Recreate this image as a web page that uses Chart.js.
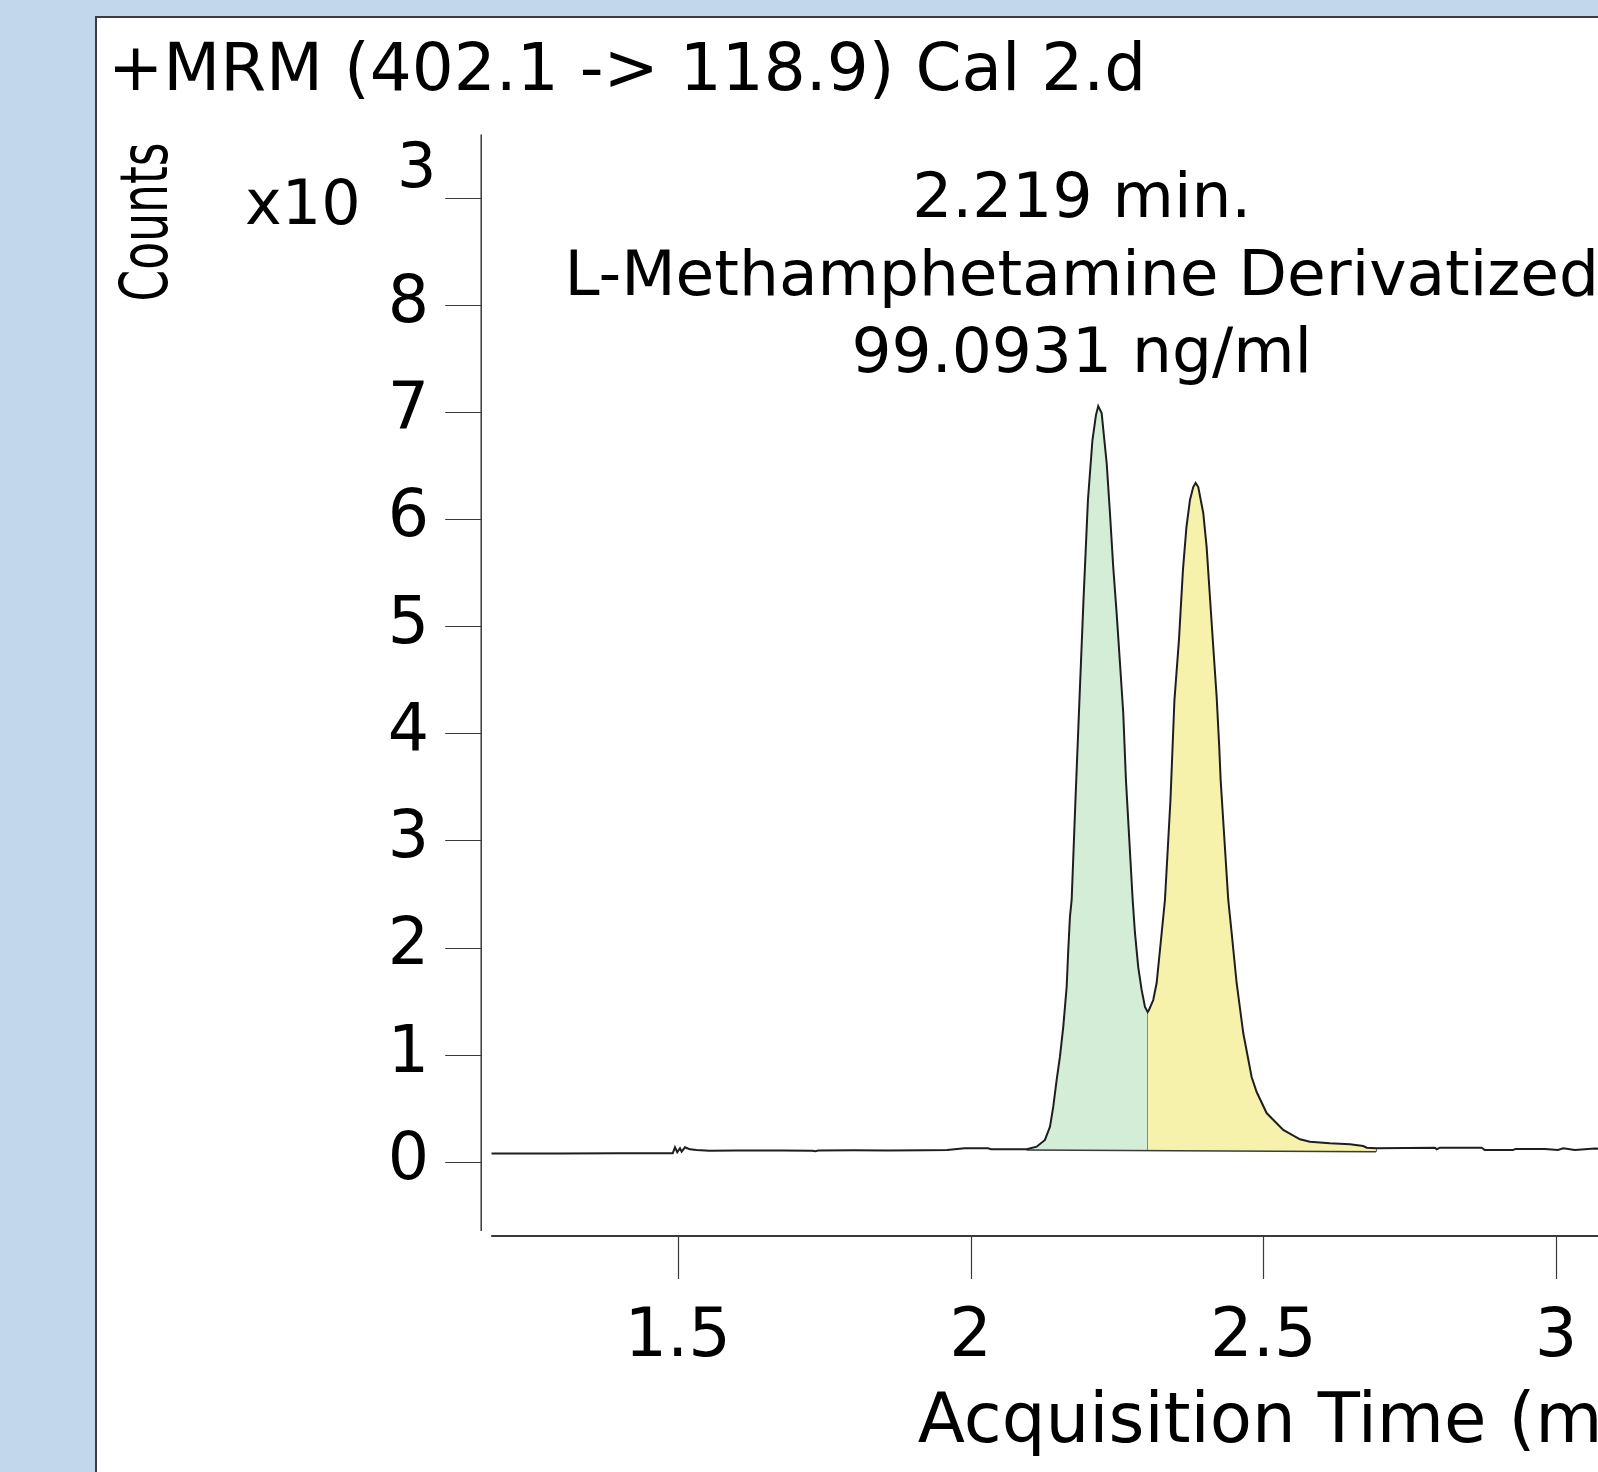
<!DOCTYPE html>
<html>
<head>
<meta charset="utf-8">
<script src="https://cdn.jsdelivr.net/npm/chart.js@4.4.0/dist/chart.umd.min.js"></script>
<style>
  html, body { margin: 0; padding: 0; overflow: hidden; }
  body { width: 1598px; height: 1472px; background: #c3d7ec; position: relative; }
  #panel { position: absolute; left: 95px; top: 16px; width: 2100px; height: 1520px;
           background: #fff; border-left: 2px solid #3c3c3c; border-top: 2px solid #3c3c3c; }
  #panel canvas { position: absolute; left: 0; top: 0; }
</style>
</head>
<body>
<div id="panel"><canvas id="chrom" width="2060" height="1480"></canvas></div>
<script>
// MRM trace, acquisition time (min) against counts (x10^3)
const times = [
  1.182, 1.30, 1.40, 1.4915, 1.4954, 1.4993, 1.5039, 1.5068, 1.5125, 1.5164, 1.521, 1.5324, 1.554,
  1.60, 1.68, 1.73, 1.735, 1.74, 1.80, 1.86, 1.92, 1.96, 1.99, 2.03, 2.035, 2.0959,
  2.1129, 2.1271, 2.1357, 2.1413, 2.1471, 2.1527, 2.1584, 2.1642, 2.1669, 2.1698, 2.1727,
  2.1792, 2.1860, 2.1929, 2.2005, 2.2082, 2.2142, 2.2181,
  2.2239, 2.2325, 2.2381, 2.2437, 2.2495, 2.2552, 2.2608, 2.2654, 2.2769, 2.2808, 2.2864,
  2.2922, 2.2979, 2.3025,
  2.3047, 2.3120, 2.3178, 2.3235, 2.3291, 2.3320, 2.3414, 2.3482, 2.3559, 2.3627, 2.3687,
  2.3747, 2.3803, 2.3844,
  2.3889, 2.3974, 2.4032, 2.4088, 2.4145, 2.4203, 2.4247, 2.4271, 2.4401, 2.4459, 2.4544,
  2.4657, 2.4800, 2.4886, 2.5056, 2.5340, 2.5625, 2.5796, 2.6137, 2.6479, 2.6706, 2.6764, 2.6923,
  2.793, 2.7959, 2.8016, 2.8727, 2.878, 2.9262, 2.931, 2.9808, 3.003, 3.012, 3.032, 3.066, 3.10
];
const counts = [
  0.078, 0.078, 0.079, 0.079, 0.135, 0.089, 0.126, 0.094, 0.135, 0.126, 0.116, 0.110, 0.104,
  0.106, 0.106, 0.104, 0.098, 0.106, 0.108, 0.106, 0.108, 0.110, 0.126, 0.126, 0.117, 0.117,
  0.141, 0.204, 0.328, 0.514, 0.764, 0.981, 1.261, 1.634, 1.977, 2.288, 2.444,
  3.377, 4.310, 5.244, 6.177, 6.737, 6.970, 7.054,
  6.989, 6.522, 6.056, 5.552, 5.122, 4.656, 4.189, 3.563, 2.444, 2.136, 1.818,
  1.604, 1.445, 1.398,
  1.417, 1.510, 1.669, 1.977, 2.285, 2.444, 3.377, 4.310, 4.870, 5.523, 5.925,
  6.177, 6.298, 6.336,
  6.298, 6.056, 5.738, 5.272, 4.805, 4.338, 3.871, 3.563, 2.444, 2.136, 1.669,
  1.202, 0.791, 0.651, 0.455, 0.297, 0.210, 0.188, 0.173, 0.163, 0.147, 0.132, 0.126,
  0.132, 0.117, 0.132, 0.132, 0.110, 0.110, 0.120, 0.120, 0.110, 0.126, 0.110, 0.123, 0.115
];

// integration baseline and peak split
const baseTimes = [2.0959, 2.6923];
const baseCounts = [0.110, 0.094];
const peakStart = 2.0959;
const valleyTime = 2.3025;
const peakEnd = 2.6923;
const peakRT = 2.219;

// axes
const xTicks = [1.5, 2, 2.5, 3, 3.5];
const yTicks = [0, 1, 2, 3, 4, 5, 6, 7, 8, 9];
const yTickLabels = ['0', '1', '2', '3', '4', '5', '6', '7', '8', ''];
const yExponent = '3';

const titleText = '+MRM (402.1 -> 118.9) Cal 2.d';
const peakLabel = ['2.219 min.', 'L-Methamphetamine Derivatized', '99.0931 ng/ml'];

const FONT = '"DejaVu Sans", sans-serif';
Chart.defaults.font.family = FONT;
Chart.defaults.color = '#000';

const trace = times.map((t, i) => ({ x: t, y: counts[i] }));
const baseline = baseTimes.map((t, i) => ({ x: t, y: baseCounts[i] }));
const baseAt = t => baseCounts[0] + (baseCounts[1] - baseCounts[0]) * (t - baseTimes[0]) / (baseTimes[1] - baseTimes[0]);
const traceAt = t => counts[times.indexOf(t)];

const firstPeak = trace.filter(p => p.x >= peakStart && p.x <= valleyTime);
const secondPeak = trace.filter(p => p.x >= valleyTime && p.x <= peakEnd);
const dropLines = [valleyTime, peakEnd].map(t => ({
  data: [{ x: t, y: baseAt(t) }, { x: t, y: traceAt(t) }],
  borderColor: '#2a2a2a', borderWidth: 1.5, pointRadius: 0, fill: false
}));

function drawText(ctx, text, x, y, size, opt) {
  opt = opt || {};
  ctx.save();
  ctx.translate(x, y);
  if (opt.rot) ctx.rotate(opt.rot);
  ctx.scale(opt.sx || 1, 1);
  ctx.font = size + 'px ' + FONT;
  ctx.fillStyle = '#000';
  ctx.textAlign = opt.align || 'left';
  ctx.textBaseline = 'alphabetic';
  ctx.fillText(text, 0, 0);
  ctx.restore();
}

const decor = {
  id: 'decor',
  afterDraw(chart) {
    const { ctx, chartArea: a, scales: { x, y } } = chart;
    const axisX = a.left - 10;
    const axisY = a.bottom + 5;
    ctx.save();
    ctx.strokeStyle = '#3a3a3a';
    ctx.lineWidth = 1.5;
    ctx.beginPath();
    ctx.moveTo(axisX, a.top);
    ctx.lineTo(axisX, a.bottom);
    ctx.stroke();
    ctx.lineWidth = 2;
    ctx.beginPath();
    ctx.moveTo(a.left, axisY);
    ctx.lineTo(a.right, axisY);
    ctx.stroke();
    ctx.lineWidth = 1.2;
    ctx.beginPath();
    y.ticks.forEach(t => {
      const py = Math.round(y.getPixelForValue(t.value)) + 0.5;
      ctx.moveTo(axisX - 36, py);
      ctx.lineTo(axisX, py);
    });
    x.ticks.forEach(t => {
      const px = Math.round(x.getPixelForValue(t.value)) + 0.5;
      ctx.moveTo(px, axisY);
      ctx.lineTo(px, axisY + 43);
    });
    ctx.stroke();
    ctx.restore();

    drawText(ctx, titleText, 11, 72, 66);
    drawText(ctx, 'Counts', 70, 204, 66, { rot: -Math.PI / 2, align: 'center', sx: 0.69 });
    drawText(ctx, 'x10', 148, 206, 62);
    drawText(ctx, yExponent, 300, 169, 62);

    const cx = x.getPixelForValue(peakRT) - 17;
    peakLabel.forEach((line, i) => drawText(ctx, line, cx, 199 + i * 77.5, 63, { align: 'center' }));
  }
};

new Chart(document.getElementById('chrom'), {
  type: 'line',
  data: {
    datasets: [
      { data: trace, borderColor: '#1e1e1e', borderWidth: 2, pointRadius: 0, fill: false },
      { data: baseline, borderColor: '#3a3a3a', borderWidth: 1.5, pointRadius: 0, fill: false },
      { data: firstPeak, borderWidth: 0, borderColor: 'rgba(0,0,0,0)', backgroundColor: '#d3edd6', pointRadius: 0, fill: 1 },
      { data: secondPeak, borderWidth: 0, borderColor: 'rgba(0,0,0,0)', backgroundColor: '#f6f2ab', pointRadius: 0, fill: 1 },
      ...dropLines
    ]
  },
  options: {
    responsive: false,
    animation: false,
    devicePixelRatio: 1,
    layout: { padding: { top: 116.5, right: 38, left: 0, bottom: 0 } },
    plugins: { legend: { display: false }, tooltip: { enabled: false }, title: { display: false } },
    scales: {
      x: {
        type: 'linear',
        min: 1.1816,
        max: 3.961,
        grid: { display: false },
        border: { display: false },
        afterBuildTicks: s => { s.ticks = xTicks.map(v => ({ value: v })); },
        afterFit: s => { s.height = 267; },
        ticks: { autoSkip: false, maxRotation: 0, padding: 59, font: { size: 67 }, callback: v => String(v) },
        title: { display: true, text: 'Acquisition Time (min)', font: { size: 69 }, padding: { top: 0, bottom: 33 } }
      },
      y: {
        type: 'linear',
        min: -0.646,
        max: 9.589,
        grid: { display: false },
        border: { display: false },
        afterBuildTicks: s => { s.ticks = yTicks.map(v => ({ value: v })); },
        afterFit: s => { s.width = 394.2; },
        ticks: { autoSkip: false, padding: 54, font: { size: 65 }, callback: (v, i) => yTickLabels[i] }
      }
    }
  },
  plugins: [decor]
});
</script>
</body>
</html>
